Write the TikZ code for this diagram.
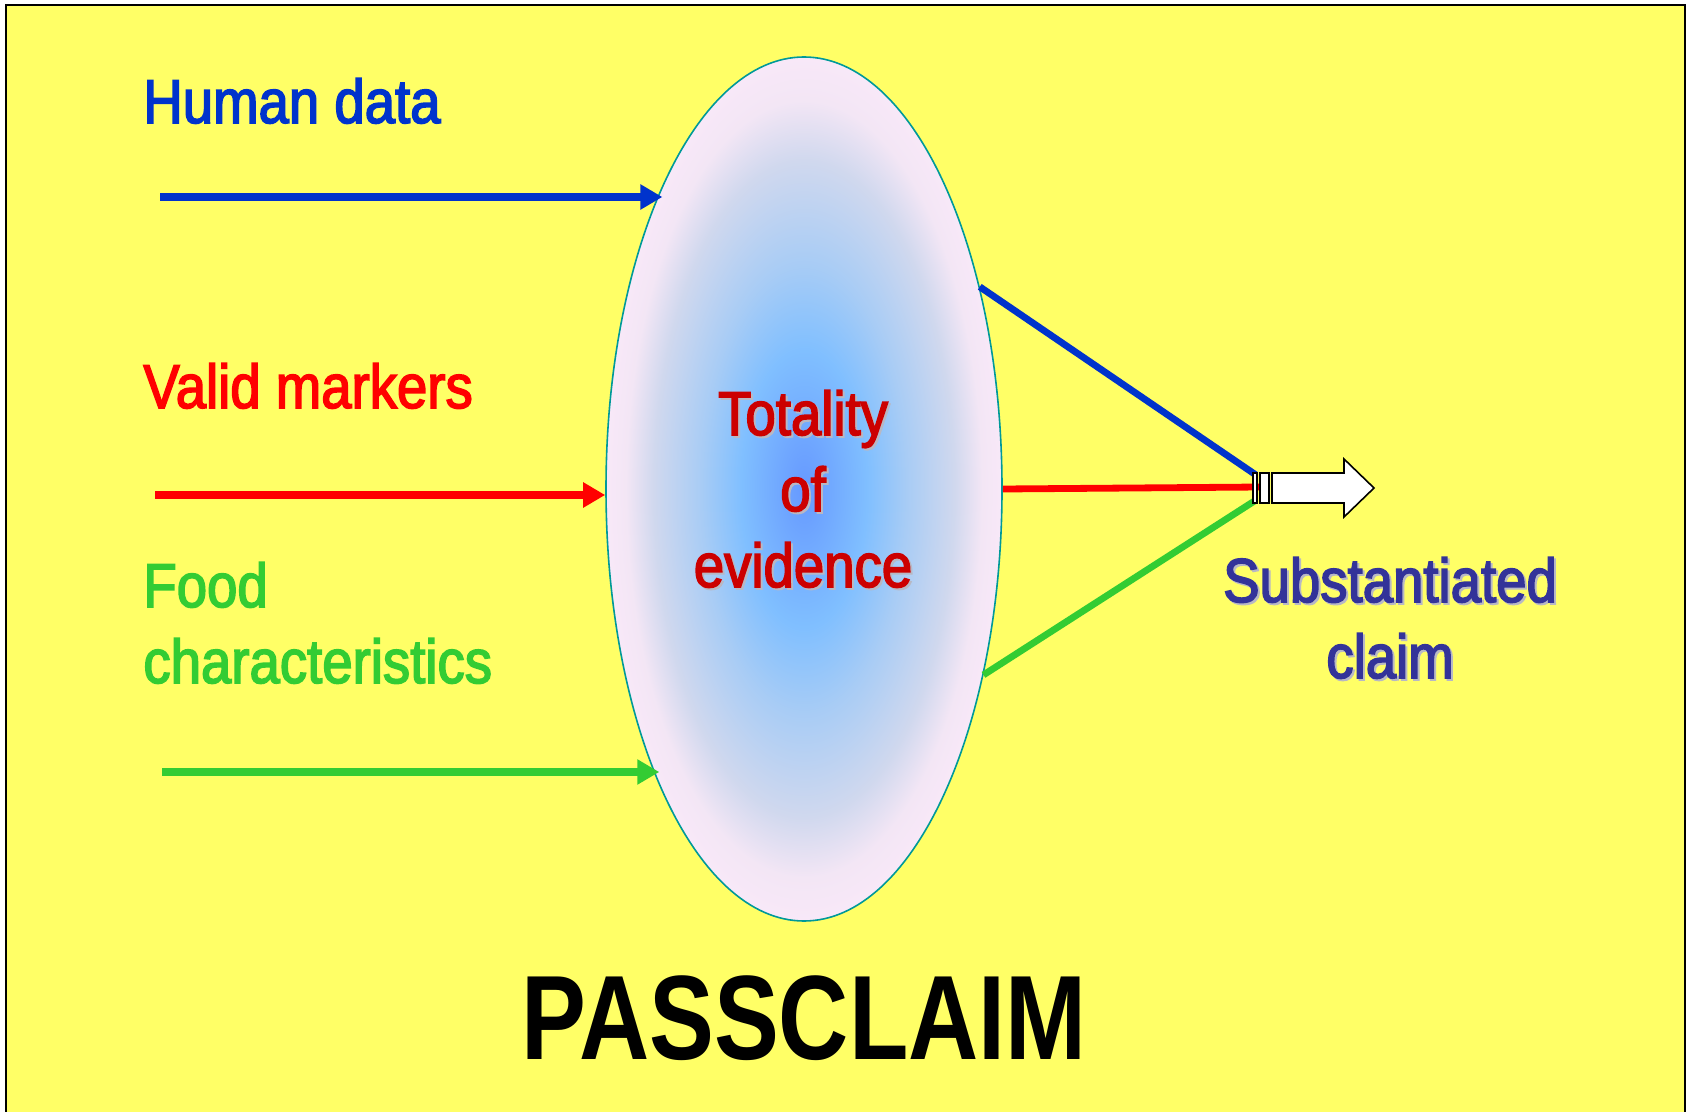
\documentclass[tikz,border=0pt]{standalone}
\usepackage{fontspec}
\setmainfont[FakeStretch=0.88,FakeBold=2.5]{Liberation Sans}
\newfontfamily\titlefont[FakeStretch=0.81]{Liberation Sans}
\usetikzlibrary{arrows.meta,shapes.geometric}
\definecolor{bgyellow}{HTML}{FFFF66}
\definecolor{hblue}{HTML}{0033CC}
\definecolor{vred}{HTML}{FF0000}
\definecolor{fgreen}{HTML}{33CC33}
\definecolor{totred}{HTML}{CC0000}
\definecolor{claimblue}{HTML}{333399}
\definecolor{rimteal}{HTML}{009999}
\definecolor{evcore}{HTML}{6699FF}
\definecolor{evmid}{HTML}{80BFFF}
\definecolor{evpale}{HTML}{A8CCF5}
\definecolor{evgrey}{HTML}{D0D8EE}
\definecolor{evrim}{HTML}{F3E6F5}
\definecolor{evedge}{HTML}{F8E8F8}
\definecolor{txtshadow}{HTML}{B8B8C4}
\pgfdeclareradialshading{evidshade}{\pgfpoint{0bp}{0bp}}{color(0bp)=(evcore); color(8bp)=(evmid); color(13bp)=(evpale); color(19bp)=(evgrey); color(22.5bp)=(evrim); color(25bp)=(evedge); color(50bp)=(evedge)}

\begin{document}
\begin{tikzpicture}[x=0.5pt, y=-0.5pt,
    lbl/.style={font=\fontsize{31}{38}\selectfont, inner sep=0pt, align=left, anchor=base west},
    mid/.style={font=\fontsize{31}{38}\selectfont, inner sep=0pt, align=center, anchor=base},
    feed/.style={line width=3.8pt, -{Triangle[length=11pt,width=12pt]}},
    spoke/.style={line width=3.4pt},
    stripe/.style={draw=black, fill=white, line width=0.8pt}
]
    \useasboundingbox (0,0) rectangle (1686,1112);
    \fill[bgyellow] (6,5) rectangle (1686,1112);
    \draw[line width=1.2pt] (6,1112) -- (6,5) -- (1685,5) -- (1685,1112);

    % the evidence ellipse
    \node[ellipse, draw=rimteal, line width=0.8pt, shading=evidshade,
          minimum width=198pt, minimum height=432pt, inner sep=0pt] (evid) at (804,489) {};

    % inputs
    \node[lbl, text=hblue] (human) at (143,123) {Human data};
    \node[lbl, text=vred] (valid) at (143,408) {Valid markers};
    \node[lbl, text=fgreen] (food) at (143,683) {Food\\characteristics};

    \coordinate (hstart) at (160,197);
    \coordinate (vstart) at (155,495);
    \coordinate (fstart) at (162,772);
    \draw[feed, hblue] (hstart) -- (hstart -| evid.115);
    \draw[feed, vred] (vstart) -- (vstart -| evid.west);
    \draw[feed, fgreen] (fstart) -- (fstart -| evid.244);

    % outputs
    \coordinate (htail) at (1256,475);
    \coordinate (vtail) at (1261,487);
    \coordinate (ftail) at (1256,500);
    \draw[spoke, hblue] (evid.49) -- (htail);
    \draw[spoke, vred] (evid.east) -- (vtail);
    \draw[spoke, fgreen] (evid.-46) -- (ftail);

    % striped block arrow
    \draw[stripe] (1253,473) rectangle (1257,503);
    \draw[stripe] (1260,473) rectangle (1269,503);
    \draw[stripe] (1272,473) -- (1344,473) -- (1344,459) -- (1374,488)
        -- (1344,517) -- (1344,503) -- (1272,503) -- cycle;

    \node[mid, text=txtshadow] (totsh) at (805,589) {Totality\\of\\evidence};
    \node[mid, text=totred] (tot) at (803,587) {Totality\\of\\evidence};
    \node[mid, text=txtshadow] (claimsh) at (1392,680) {Substantiated\\claim};
    \node[mid, text=claimblue] (claim) at (1390,678) {Substantiated\\claim};

    \node[inner sep=0pt, anchor=base, font=\titlefont\bfseries\fontsize{60}{60}\selectfont] (title) at (804,1059) {PASSCLAIM};
\end{tikzpicture}
\end{document}
